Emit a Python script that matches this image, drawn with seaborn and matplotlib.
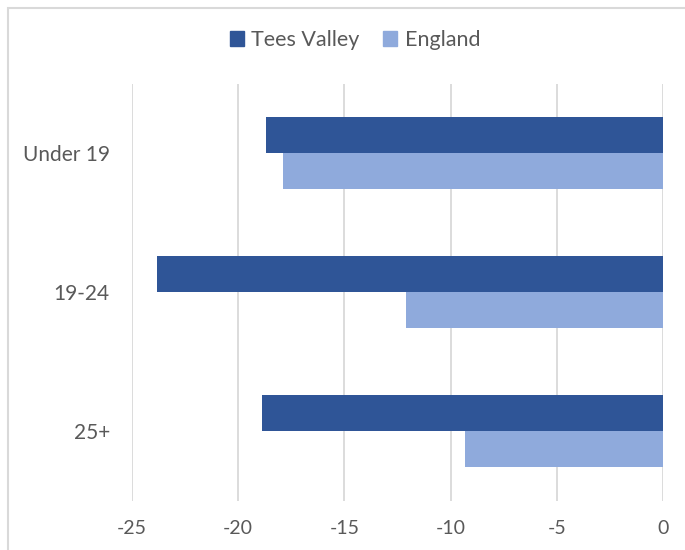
import matplotlib
matplotlib.use("Agg")
import matplotlib.pyplot as plt
from matplotlib.patches import Rectangle
import seaborn as sns
import pandas as pd

# Percentage change by age group
age_groups = ["Under 19", "19-24", "25+"]
series_names = ["Tees Valley", "England"]
tees_valley = [-18.7, -23.8, -18.9]
england = [-17.9, -12.1, -9.3]
x_ticks = [-25, -20, -15, -10, -5, 0]

colors = {"Tees Valley": "#2F5597", "England": "#8FAADC"}
text_grey = "#595959"
grid_grey = "#D9D9D9"

df = pd.DataFrame({
    "Age": age_groups * 2,
    "Series": [series_names[0]] * 3 + [series_names[1]] * 3,
    "Change": tees_valley + england,
})

sns.set_theme(style="white")
plt.rcParams["font.family"] = ["Lato", "DejaVu Sans"]

fig = plt.figure(figsize=(6.85, 5.5), dpi=100)
ax = fig.add_axes([132 / 685, 1 - 500.5 / 550, 531 / 685, 417 / 550])

sns.barplot(
    data=df, y="Age", x="Change", hue="Series",
    order=age_groups, hue_order=series_names, palette=colors,
    orient="h", width=0.525, errorbar=None, saturation=1,
    edgecolor="none", ax=ax, zorder=3,
)

ax.set_xlim(-25, 0)
ax.set_xticks(x_ticks)
ax.set_xticklabels([str(t) for t in x_ticks])
ax.set_xlabel("")
ax.set_ylabel("")
ax.grid(axis="x", color=grid_grey, linewidth=1.3, zorder=0)
ax.grid(axis="y", visible=False)
for s in ax.spines.values():
    s.set_visible(False)
ax.tick_params(axis="both", length=0, labelcolor=text_grey)
ax.tick_params(axis="x", pad=14, labelsize=14)
ax.tick_params(axis="y", pad=16, labelsize=15)

ax.legend_.remove()
handles = [plt.Rectangle((0, 0), 1, 1, color=colors[n]) for n in series_names]
fig.legend(
    handles, series_names, loc="center", bbox_to_anchor=(355 / 685, 1 - 40 / 550),
    ncol=2, frameon=False, fontsize=15.5, labelcolor=text_grey,
    handlelength=0.65, handleheight=0.65, handletextpad=0.35, columnspacing=1.1,
)

# Chart area border
fig.add_artist(Rectangle(
    (8 / 685, -0.05), 1.0, 1 - 7.5 / 550 + 0.05, transform=fig.transFigure,
    fill=False, edgecolor=grid_grey, linewidth=1.5, clip_on=False,
))

fig.savefig("out.png", dpi=100)
